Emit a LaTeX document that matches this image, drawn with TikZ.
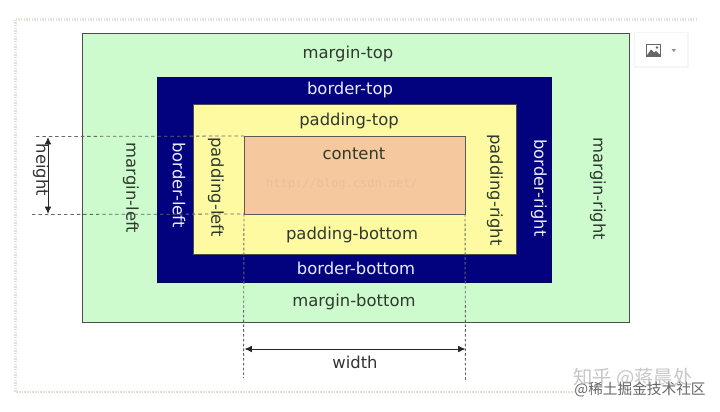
\documentclass[tikz,border=0pt]{standalone}
\usepackage{fontspec}
\setmainfont{DejaVu Sans}
\newfontfamily\cjkf{Noto Sans CJK SC}
\newfontfamily\monof{DejaVu Sans Mono}
\definecolor{margincol}{HTML}{CEFBCE}
\definecolor{bordercol}{HTML}{02027E}
\definecolor{paddingcol}{HTML}{FDFAA2}
\definecolor{contentcol}{HTML}{F5C89E}
\definecolor{inkcol}{HTML}{2E3A2E}
\definecolor{framecol}{HTML}{E2E2D8}
\usetikzlibrary{arrows.meta,calc}
\tikzset{
  boxm/.style={draw=#1,line width=0.55pt,inner sep=0pt,outer sep=0pt},
  lab/.style={font=\fontsize{12.3}{14}\selectfont,text=inkcol,inner sep=0pt},
  labw/.style={font=\fontsize{12.3}{14}\selectfont,text=white!92!blue,inner sep=0pt},
  guide/.style={dash pattern=on 2.6pt off 2.2pt,line width=0.6pt,draw=black!60},
  vguide/.style={dash pattern=on 2pt off 1.6pt,line width=0.7pt,draw=black!60},
  dimb/.style={{Latex[length=5.5pt,width=5pt]}-{Latex[length=5.5pt,width=5pt]},line width=0.7pt,black!85},
}
\begin{document}
\begin{tikzpicture}[x=0.75pt,y=-0.75pt]
\useasboundingbox (0,0) rectangle (720,411);
\fill[white] (0,0) rectangle (720,411);
% frame
\draw[framecol,line width=2.2pt,dash pattern=on 1.2pt off 0.8pt] (15.5,19.5) -- (698,19.5);
\draw[framecol,line width=2.2pt,dash pattern=on 1.2pt off 0.8pt] (15.5,19.5) -- (15.5,392) -- (575,392);
% boxes
\node[boxm=black!70,fill=margincol,minimum width=410.25pt,minimum height=216.75pt,anchor=north west] (margin) at (82,33) {};
\node[boxm=bordercol!70!black,fill=bordercol,minimum width=295.5pt,minimum height=153.75pt,anchor=north west] (border) at (157.5,77) {};
\node[boxm=black!70,fill=paddingcol,minimum width=242.25pt,minimum height=112.5pt,anchor=north west] (padding) at (193,104) {};
\node[boxm=black!65,fill=contentcol,minimum width=165.75pt,minimum height=58.5pt,anchor=north west] (content) at (244,136) {};
% faint url
\node[text=black!4!contentcol,font=\monof\fontsize{9}{10}\selectfont,inner sep=0pt] (url) at (342,184) {http://blog.csdn.net/};
% labels
\node[lab] (mt) at (348,54) {margin-top};
\node[lab] (mb) at (354,302) {margin-bottom};
\node[lab,rotate=-90] (ml) at (131,188) {margin-left};
\node[lab,rotate=-90] (mr) at (598,189) {margin-right};
\node[labw] (bt) at (350,90) {border-top};
\node[labw] (bb) at (356,268) {border-bottom};
\node[labw,rotate=-90] (bl) at (179,185) {border-left};
\node[labw,rotate=-90] (br) at (539,188) {border-right};
\node[lab] (pt) at (349,121) {padding-top};
\node[lab] (pb) at (352,235) {padding-bottom};
\node[lab,rotate=-90] (pl) at (216,187) {padding-left};
\node[lab,rotate=-90] (pr) at (495,190) {padding-right};
\node[lab] (ct) at (354,154) {content};
% guides
\coordinate (h1) at (36,136.5);
\coordinate (h2) at (32,214.5);
\coordinate (v1) at (243.5,378);
\coordinate (v2) at (465.5,380);
\draw[guide] (h1) -- (content.north west);
\draw[guide] (h2) -- (content.south west);
\draw[vguide] (content.south west) -- (v1);
\draw[vguide] (content.south east) -- (v2);
% height
\coordinate (ha) at (48,137);
\coordinate (hb) at (48,214);
\draw[dimb] (ha) -- (hb);
\node[font=\fontsize{12.3}{14}\selectfont,text=black!80,inner sep=0pt,rotate=-90] (hl) at (41,170) {height};
% width
\coordinate (wa) at (244.5,349);
\coordinate (wb) at (465.5,349);
\draw[dimb] (wa) -- (wb);
\node[font=\fontsize{12.3}{14}\selectfont,text=black!80,inner sep=0pt] (wl) at (355,362) {width};
% image button
\fill[black!4] (634,32) rectangle (689,68);
\node[fill=white,minimum width=39pt,minimum height=24.5pt,inner sep=0pt,anchor=north west] (btn) at (635,33) {};
\fill[black!60] (646,44) rectangle (661,57);
\fill[white] (647.2,45.2) rectangle (659.8,55.8);
\fill[black!60] (647.2,55) -- (651,49.5) -- (654,52.5) -- (656,51) -- (659.8,54.5) -- (659.8,55.8) -- (647.2,55.8) -- cycle;
\fill[black!60] (657,47.5) circle (1pt);
\fill[black!45] (671.5,49) -- (676,49) -- (673.75,52) -- cycle;
% watermarks
\node[text=black!22,font=\cjkf\fontsize{14.5}{16}\selectfont,inner sep=0pt] (z) at (633,378) {知乎 @蒋晨处};
\node[text=black!60,font=\cjkf\fontsize{11}{13}\selectfont,inner sep=0pt] (j) at (640,390) {@稀土掘金技术社区};
\end{tikzpicture}
\end{document}
